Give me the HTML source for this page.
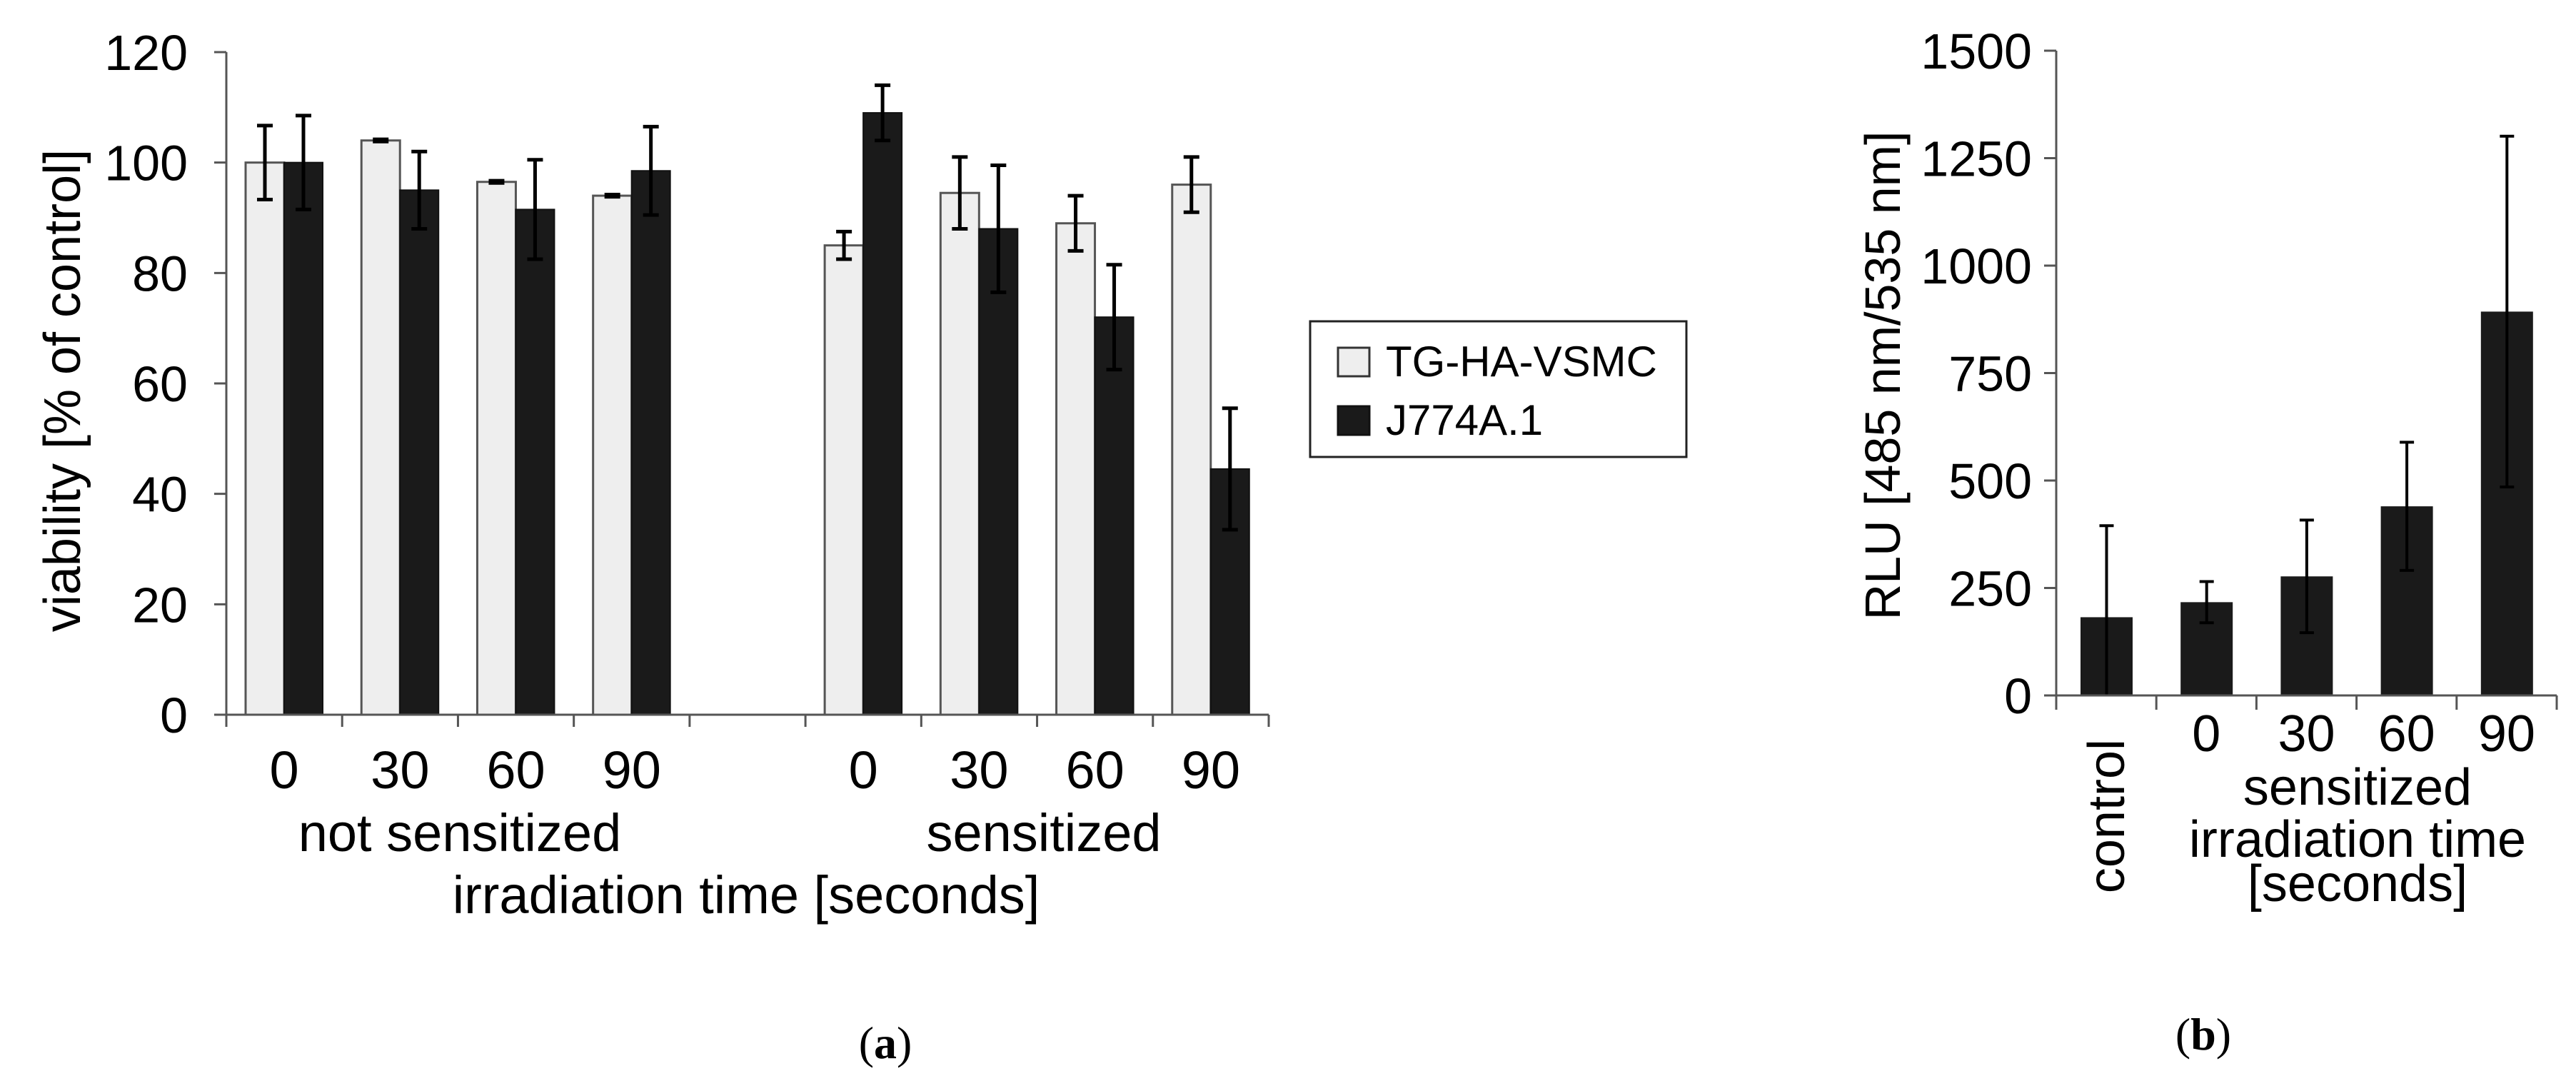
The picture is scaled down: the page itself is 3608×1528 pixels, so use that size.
<!DOCTYPE html>
<html><head><meta charset="utf-8"><style>
html,body{margin:0;padding:0;background:#fff}
svg{display:block}
text{font-family:"Liberation Sans",sans-serif;fill:#000}
</style></head><body>
<svg id="fig" width="3608" height="1528" viewBox="0 0 3608 1528" xmlns="http://www.w3.org/2000/svg">
<g id="pa"></g>
<g id="pb"></g>
<g>
<rect x="1835" y="450" width="527" height="190" fill="#fff" stroke="#222" stroke-width="3"/>
<rect x="1874" y="487" width="44" height="40" fill="#eeeeee" stroke="#333" stroke-width="3"/>
<text x="1941" y="527" font-size="60">TG-HA-VSMC</text>
<rect x="1874" y="569" width="44" height="40" fill="#1a1a1a" stroke="#111" stroke-width="3"/>
<text x="1941" y="609" font-size="60">J774A.1</text>
</g>
<text x="1240" y="1482" font-size="64" text-anchor="middle" style="font-family:'Liberation Serif',serif">(<tspan font-weight="bold">a</tspan>)</text>
<text x="3086" y="1470" font-size="64" text-anchor="middle" style="font-family:'Liberation Serif',serif">(<tspan font-weight="bold">b</tspan>)</text>
</svg>
<script>
// Panel A data
const aCategories = ["0","30","60","90","","0","30","60","90"];
const aLight = [100,104,96.5,94,null,85,94.5,89,96];
const aLightErr = [6.7,0.2,0.2,0.2,null,2.5,6.5,5,5];
const aDark = [100,95,91.5,98.5,null,109,88,72,44.5];
const aDarkErr = [8.5,7,9,8,null,5,11.5,9.5,11];
const aTicks = [0,20,40,60,80,100,120];
// Panel B data
const bCategories = ["control","0","30","60","90"];
const bValues = [182,217,277,440,893];
const bErr = [213,48,131,149,408];
const bTicks = [0,250,500,750,1000,1250,1500];

const NS="http://www.w3.org/2000/svg";
function mk(parent,tag,attrs,text){const e=document.createElementNS(NS,tag);for(const k in attrs)e.setAttribute(k,attrs[k]);if(text!==undefined)e.textContent=text;parent.appendChild(e);return e;}

// ---- Panel A ----
const pa=document.getElementById('pa');
const aX0=317,aX1=1777,aY0=1001,aYTop=73,aMax=120;
const aStep=(aX1-aX0)/aCategories.length;
const ay=v=>aY0-(v/aMax)*(aY0-aYTop);
const bw=54;
let ln=mk(pa,'line',{x1:aX0,y1:aYTop,x2:aX0,y2:aY0,stroke:'#555','stroke-width':3});


aTicks.forEach(t=>{
  const l=mk(pa,'line',{x1:aX0-17,y1:ay(t),x2:aX0,y2:ay(t),stroke:'#555','stroke-width':3});
  
  
  const tx=mk(pa,'text',{x:aX0-54,y:ay(t)+25,'font-size':70,'text-anchor':'end'},String(t));
  
  
});
aCategories.forEach((c,i)=>{
  const x=aX0+i*aStep;
  if(aLight[i]!==null){
    const r1=mk(pa,'rect',{x:x+27,y:ay(aLight[i]),width:bw,height:aY0-ay(aLight[i]),fill:'#eeeeee',stroke:'#555','stroke-width':3});
    
    
    const r2=mk(pa,'rect',{x:x+27+bw,y:ay(aDark[i]),width:bw,height:aY0-ay(aDark[i]),fill:'#1a1a1a',stroke:'#111','stroke-width':2});
    
    
    [[x+27+bw/2,aLight[i],aLightErr[i]],[x+27+bw*1.5,aDark[i],aDarkErr[i]]].forEach(([cx,v,e])=>{
      const g=mk(pa,'path',{d:`M${cx},${ay(v+e)}V${ay(v-e)}M${cx-11},${ay(v+e)}H${cx+11}M${cx-11},${ay(v-e)}H${cx+11}`,stroke:'#000','stroke-width':5,fill:'none'});
      
      
    });
    const tl=mk(pa,'text',{x:x+aStep/2,y:1104,'font-size':74,'text-anchor':'middle'},c);
    
    
  }
});
for(let i=0;i<=aCategories.length;i++){
  const t=mk(pa,'line',{x1:aX0+i*aStep,y1:aY0,x2:aX0+i*aStep,y2:aY0+17,stroke:'#555','stroke-width':3});
  
  
}
ln=mk(pa,'line',{x1:aX0,y1:aY0,x2:aX1,y2:aY0,stroke:'#555','stroke-width':3});


let t=mk(pa,'text',{x:644,y:1192,'font-size':74,'text-anchor':'middle'},'not sensitized');


t=mk(pa,'text',{x:1462,y:1192,'font-size':74,'text-anchor':'middle'},'sensitized');


t=mk(pa,'text',{x:1045,y:1279,'font-size':74,'text-anchor':'middle'},'irradiation time [seconds]');


t=mk(pa,'text',{x:0,y:0,'font-size':72,'text-anchor':'middle',transform:'translate(112,547) rotate(-90)'},'viability [% of control]');



// ---- Panel B ----
const pb=document.getElementById('pb');
const bX0=2880,bX1=3581,bY0=974,bYTop=71,bMax=1500;
const bStep=(bX1-bX0)/bCategories.length;
const by=v=>bY0-(v/bMax)*(bY0-bYTop);
const bbw=73;
ln=mk(pb,'line',{x1:bX0,y1:bYTop,x2:bX0,y2:bY0,stroke:'#555','stroke-width':3});


bTicks.forEach(v=>{
  const l=mk(pb,'line',{x1:bX0-17,y1:by(v),x2:bX0,y2:by(v),stroke:'#555','stroke-width':3});
  
  
  const tx=mk(pb,'text',{x:bX0-34,y:by(v)+25,'font-size':70,'text-anchor':'end'},String(v));
  
  
});
bCategories.forEach((c,i)=>{
  const x=bX0+i*bStep;
  const v=bValues[i],e=bErr[i];
  const r=mk(pb,'rect',{x:x+34,y:by(v),width:bbw,height:bY0-by(v),fill:'#1a1a1a'});
  
  
  const cx=x+34+bbw/2;
  const g=mk(pb,'path',{d:`M${cx},${by(v+e)}V${Math.min(by(Math.max(v-e,0)),bY0)}M${cx-10},${by(v+e)}H${cx+10}`+(v-e>0?`M${cx-10},${by(v-e)}H${cx+10}`:''),stroke:'#000','stroke-width':4,fill:'none'});
  
  
  let tl;
  if(i===0){
    tl=mk(pb,'text',{x:0,y:0,'font-size':72,'text-anchor':'end',transform:`translate(${x+bStep/2+25},1035) rotate(-90)`},c);
  } else {
    tl=mk(pb,'text',{x:x+bStep/2,y:1052,'font-size':72,'text-anchor':'middle'},c);
  }
  
  
});
for(let i=0;i<=bCategories.length;i++){
  const tk=mk(pb,'line',{x1:bX0+i*bStep,y1:bY0,x2:bX0+i*bStep,y2:bY0+20,stroke:'#555','stroke-width':3});
  
  
}
ln=mk(pb,'line',{x1:bX0-8,y1:bY0,x2:bX1,y2:bY0,stroke:'#555','stroke-width':3});


t=mk(pb,'text',{x:3302,y:1127,'font-size':72,'text-anchor':'middle'},'sensitized');


t=mk(pb,'text',{x:3302,y:1200,'font-size':72,'text-anchor':'middle'},'irradiation time');


t=mk(pb,'text',{x:3302,y:1262,'font-size':72,'text-anchor':'middle'},'[seconds]');


t=mk(pb,'text',{x:0,y:0,'font-size':70,'text-anchor':'middle',transform:'translate(2661,526) rotate(-90)'},'RLU [485 nm/535 nm]');


</script>
</body></html>
